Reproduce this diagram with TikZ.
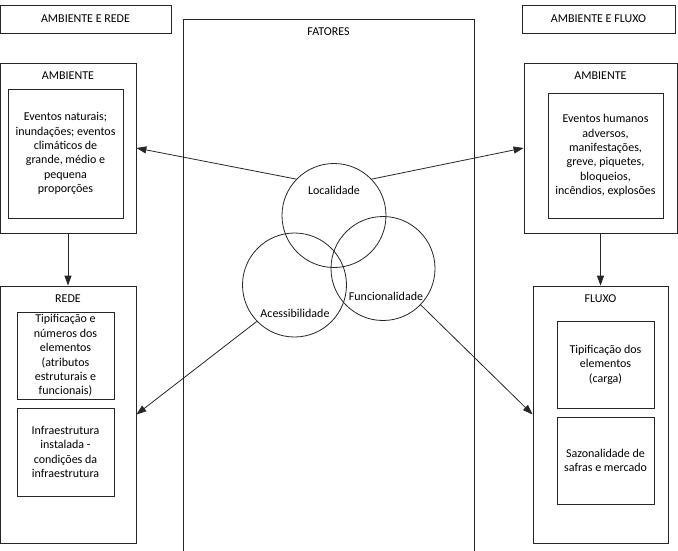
\documentclass[tikz,border=0pt]{standalone}
\usepackage{fontspec}
\setmainfont{Carlito}
\usetikzlibrary{arrows.meta,positioning}

\begin{document}
\begin{tikzpicture}[x=1pt,y=-1pt,>={Triangle[length=10pt,width=7pt]},
  box/.style={draw=black!85,line width=0.8pt,rectangle,inner sep=0pt},
  txt/.style={font=\fontsize{12}{14.4}\selectfont,align=center},
  ring/.style={draw=black!85,line width=0.8pt,circle,minimum size=104pt,inner sep=0pt},
  arr/.style={->,draw=black!85,line width=0.8pt}]
\useasboundingbox (0,0) rectangle (678,550);

\node[box,txt,minimum width=171pt,minimum height=28pt] (hdrL) at (85.5,19) {AMBIENTE E REDE};
\node[box,txt,minimum width=153pt,minimum height=28pt] (hdrR) at (598.5,19) {AMBIENTE E FLUXO};

\node[box,minimum width=291pt,minimum height=560pt,anchor=north] (fat) at (328.5,19) {};
\node[txt] (fatT) at (328.5,32) {FATORES};

\node[box,minimum width=136pt,minimum height=170pt] (ambL) at (68,148) {};
\node[txt] (ambLT) at (68,76) {AMBIENTE};
\node[box,txt,minimum width=115pt,minimum height=129pt] (natur) at (65.5,153.5)
  {Eventos naturais;\\ inundações; eventos\\ climáticos de\\ grande, médio e\\ pequena\\ proporções};

\node[box,minimum width=153pt,minimum height=170pt] (ambR) at (600.5,148) {};
\node[txt] (ambRT) at (600.5,76) {AMBIENTE};
\node[box,txt,minimum width=115pt,minimum height=125pt] (human) at (605.5,155.5)
  {Eventos humanos\\ adversos,\\ manifestações,\\ greve, piquetes,\\ bloqueios,\\ incêndios, explosões};

\node[box,minimum width=136pt,minimum height=257pt] (rede) at (68,414.5) {};
\node[txt] (redeT) at (68,299) {REDE};
\node[box,txt,minimum width=97pt,minimum height=87pt] (tipR) at (65.5,355.5)
  {Tipificação e\\ números dos\\ elementos\\ (atributos\\ estruturais e\\ funcionais)};
\node[box,txt,minimum width=97pt,minimum height=88pt] (infra) at (65.5,452)
  {Infraestrutura\\ instalada -\\ condições da\\ infraestrutura};

\node[box,minimum width=135pt,minimum height=257pt] (flux) at (600.5,414.5) {};
\node[txt] (fluxT) at (600.5,299) {FLUXO};
\node[box,txt,minimum width=97pt,minimum height=87pt] (tipF) at (605.5,364.5)
  {Tipificação dos\\ elementos\\ (carga)};
\node[box,txt,minimum width=97pt,minimum height=87pt] (sazo) at (605.5,460.5)
  {Sazonalidade de\\ safras e mercado};

\node[ring] (loc) at (334,215.5) {};
\node[ring] (acc) at (294.5,285) {};
\node[ring] (fun) at (383,268.5) {};
\node[txt] (locT) at (334,190) {Localidade};
\node[txt] (accT) at (295,313) {Acessibilidade};
\node[txt] (funT) at (386,296) {Funcionalidade};

\draw[arr] (loc.136) -- (ambL.east);
\draw[arr] (loc.44) -- (ambR.west);
\draw[arr] (acc.224) -- (rede.east);
\draw[arr] (fun.316) -- (flux.west);
\draw[arr] (ambL.south) -- (rede.north);
\draw[arr] (ambR.south) -- (flux.north);
\end{tikzpicture}
\end{document}
